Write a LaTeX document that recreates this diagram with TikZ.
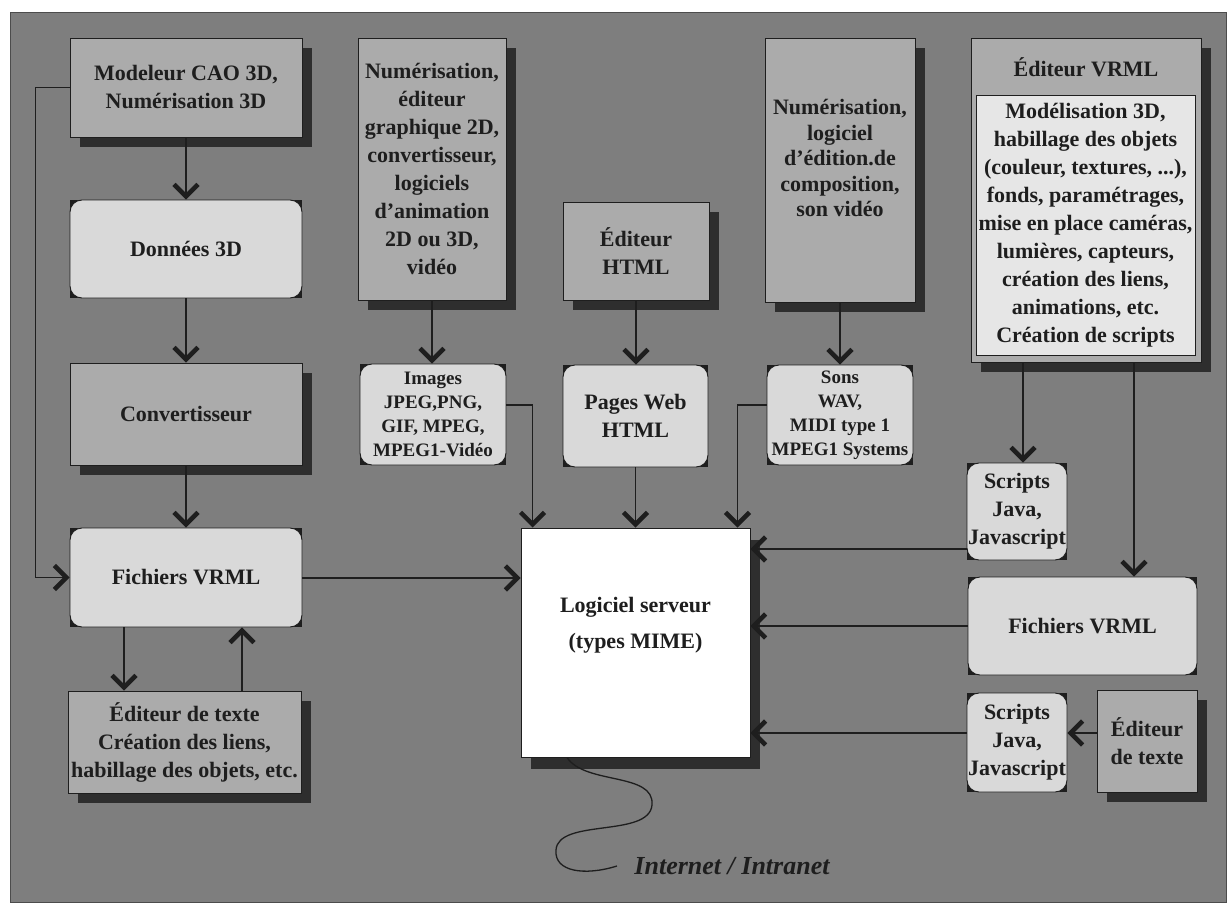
\documentclass[tikz,border=0pt]{standalone}
\usepackage{fontspec}
\setmainfont{Liberation Serif}
\usetikzlibrary{arrows.meta,shadows}
\pgfdeclarelayer{frame}
\pgfdeclarelayer{under}
\pgfsetlayers{frame,under,main}

\definecolor{bgc}{HTML}{7E7E7E}
\definecolor{boxgray}{HTML}{ABABAB}
\definecolor{light}{HTML}{D9D9D9}
\definecolor{inner}{HTML}{E6E6E6}
\definecolor{shade}{HTML}{2E2E2E}
\definecolor{ink}{HTML}{1E1E1E}

\begin{document}
\begin{tikzpicture}[x=1pt,y=-1pt,
  txt/.style={font=\fontsize{22}{28}\selectfont\bfseries, text=ink, align=center},
  small/.style={font=\fontsize{19}{24}\selectfont\bfseries, text=ink, align=center},
  wh/.style 2 args={minimum width=#1pt, minimum height=#2pt},
  box/.style={rectangle, draw=ink, line width=0.9pt, fill=boxgray, inner sep=0pt,
    drop shadow={shadow xshift=10pt, shadow yshift=-10pt, fill=shade, opacity=1}},
  soft/.style={rectangle, rounded corners=12pt, draw=ink, line width=0.9pt, fill=light, inner sep=0pt},
  arr/.style={draw=ink, line width=1.3pt, -{Straight Barb[length=12pt,width=24pt,line width=4.5pt]}},
  wire/.style={draw=ink, line width=1.3pt}
]
\useasboundingbox (0,0) rectangle (1232,910);

% textured field inside the frame
\begin{pgfonlayer}{frame}
  \fill[white] (0,0) rectangle (1232,910);
  \fill[bgc] (10,12) rectangle (1226,902);
  \draw[black!70, line width=1pt] (10,12) rectangle (1226,902);
\end{pgfonlayer}

% ---- left column
\node[box, txt, wh={232}{99}] (mod) at (186,87.5) {Modeleur CAO 3D,\\Numérisation 3D};
\node[soft, txt, wh={232}{98}] (don) at (186,249) {Données 3D};
\node[box, txt, wh={232}{102}] (conv) at (186,414) {Convertisseur};
\node[soft, txt, wh={232}{99}] (ficL) at (186,577.5) {Fichiers VRML};
\node[box, txt, wh={233}{102}] (edtL) at (184.5,742) {Éditeur de texte\\Création des liens,\\habillage des objets, etc.};

% ---- second column
\node[box, txt, wh={148}{262}] (num2) at (432,169) {Numérisation,\\éditeur\\graphique 2D,\\convertisseur,\\logiciels\\d’animation\\2D ou 3D,\\vidéo};
\node[soft, small, wh={146}{101}] (img) at (433,414.5) {Images\\JPEG,PNG,\\GIF, MPEG,\\MPEG1-Vidéo};

% ---- third column
\node[box, txt, wh={146}{98}] (html) at (636,251) {Éditeur\\HTML};
\node[soft, txt, wh={145}{102}] (pages) at (635.5,416) {Pages Web\\HTML};

% ---- fourth column
\node[box, wh={150}{264}] (num3) at (840,170) {};
\node[txt, font=\fontsize{22}{25.5}\selectfont\bfseries] (num3t) at (840,158) {Numérisation,\\logiciel\\d’édition.de\\composition,\\son vidéo};
\node[soft, small, wh={146}{100}] (sons) at (840,415) {Sons\\WAV,\\MIDI type 1\\MPEG1 Systems};

% ---- VRML editor
\node[box, wh={230}{324}] (vrml) at (1086,200) {};
\node[txt] (vrmlt) at (1086,67) {Éditeur VRML};
\node[rectangle, draw=ink, line width=0.9pt, fill=inner, inner sep=0pt, txt, wh={219}{260}] (vrmlin) at (1085.5,225)
  {Modélisation 3D,\\habillage des objets\\(couleur, textures, ...),\\fonds, paramétrages,\\mise en place caméras,\\lumières, capteurs,\\création des liens,\\animations, etc.\\Création de scripts};

\node[soft, txt, wh={100}{97}] (scr1) at (1017,511.5) {Scripts\\Java,\\Javascript};
\node[soft, txt, wh={229}{98}] (ficR) at (1082.5,626) {Fichiers VRML};
\node[soft, txt, wh={100}{99}] (scr2) at (1017,742.5) {Scripts\\Java,\\Javascript};
\node[box, txt, wh={100}{102}] (edtR) at (1147,741) {Éditeur\\de texte};

% ---- server
\node[rectangle, draw=ink, line width=0.9pt, fill=white, inner sep=0pt, wh={229}{229},
  drop shadow={shadow xshift=10pt, shadow yshift=-12pt, fill=shade, opacity=1}] (srv) at (635.5,642.5) {};
\node[txt, font=\fontsize{22}{36}\selectfont\bfseries] (srvt) at (635.5,625) {Logiciel serveur\\(types MIME)};

% dark corners behind the rounded boxes
\begin{pgfonlayer}{under}
  \foreach \n in {don,ficL,img,pages,sons,scr1,ficR,scr2}
    \fill[ink] (\n.south west) rectangle (\n.north east);
\end{pgfonlayer}

% ---- connectors, left column
\draw[arr] (mod.south) -- (don.north);
\draw[arr] (don.south) -- (conv.north);
\draw[arr] (conv.south) -- (ficL.north);
\draw[arr] (ficL.south -| 124,0) -- (edtL.north -| 124,0);
\draw[arr] (edtL.north -| 242,0) -- (ficL.south -| 242,0);
\draw[arr] (mod.west) -- ++(-34,0) |- (ficL.west);

% ---- connectors, media columns
\draw[arr] (num2.south) -- (num2.south |- img.north);
\draw[arr] (html.south) -- (html.south |- pages.north);
\draw[arr] (num3.south) -- (num3.south |- sons.north);
\draw[arr] (img.east |- 0,405) -| ([xshift=12pt]srv.north west);
\draw[arr] (pages.south) -- (pages.south |- srv.north);
\draw[arr] (sons.west |- 0,405) -| ([xshift=-13pt]srv.north east);

% ---- connectors into the server
\draw[arr] (ficL.east |- 0,578) -- (srv.west |- 0,578);
\draw[arr] (scr1.west |- 0,549) -- (srv.east |- 0,549);
\draw[arr] (ficR.west) -- (srv.east |- ficR.west);
\draw[arr] (scr2.west |- 0,733) -- (srv.east |- 0,733);
\draw[arr] (edtR.west |- 0,733) -- (scr2.east |- 0,733);

% ---- connectors from the VRML editor
\draw[arr] (vrml.south -| 1023,0) -- (scr1.north -| 1023,0);
\draw[arr] (vrml.south -| 1134,0) -- (ficR.north -| 1134,0);

% ---- network cable
\node[font=\fontsize{26}{30}\selectfont\bfseries\itshape, text=ink] (net) at (732,866) {Internet / Intranet};
\coordinate (wv) at (srv.south -| 567,0);
\coordinate (we) at ([xshift=-14pt]net.west);
\draw[wire] (wv) .. controls (585,785) and (655,772) .. (652,805)
  .. controls (649,838) and (558,818) .. (556,850)
  .. controls (554,872) and (585,876) .. (we);
\end{tikzpicture}
\end{document}
